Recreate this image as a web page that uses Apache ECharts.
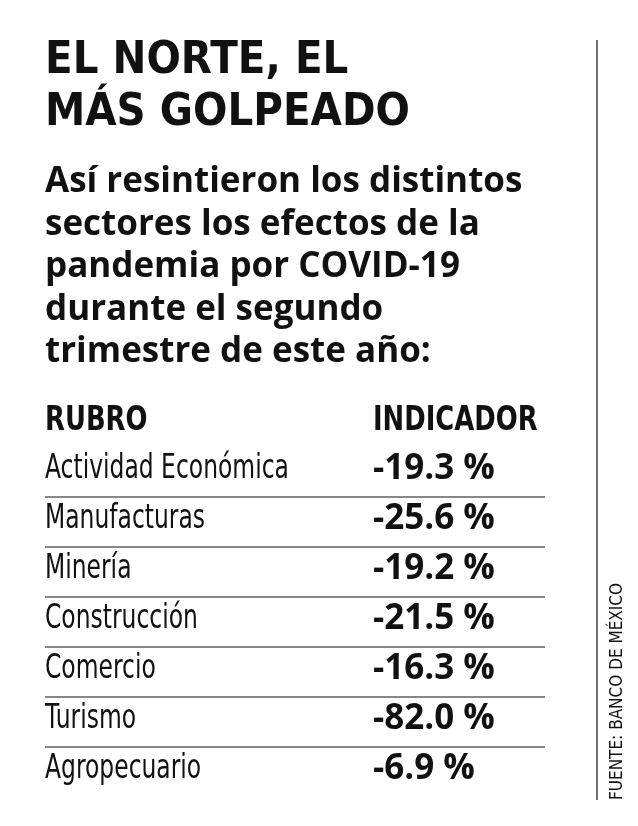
<!DOCTYPE html>
<html><head><meta charset="utf-8">
<script src="https://cdn.jsdelivr.net/npm/echarts@6/dist/echarts.min.js"></script>
<style>html,body{margin:0;background:#fff}#c{width:638px;height:826px}</style>
</head><body><div id="c"></div>
<script>
var titleLines = ['EL NORTE, EL', 'MÁS GOLPEADO'];
var subLines = ['Así resintieron los distintos', 'sectores los efectos de la', 'pandemia por COVID-19', 'durante el segundo', 'trimestre de este año:'];
var rubros = ['Actividad Económica', 'Manufacturas', 'Minería', 'Construcción', 'Comercio', 'Turismo', 'Agropecuario'];
var valores = [-19.3, -25.6, -19.2, -21.5, -16.3, -82.0, -6.9];
var fuente = 'FUENTE: BANCO DE MÉXICO';

var g = [];
titleLines.forEach(function (t, i) {
    g.push({ type: 'text', x: 45, y: 40 + i * 52, scaleX: 0.92, style: { text: t, font: 'bold 44px "DejaVu Sans",sans-serif', fill: '#111' } });
});
subLines.forEach(function (t, i) {
    g.push({ type: 'text', x: 45, y: 165 + i * 42.5, style: { text: t, font: 'bold 35px "Open Sans",sans-serif', fill: '#111' } });
});
g.push({ type: 'text', x: 45, y: 404, scaleX: 0.76, style: { text: 'RUBRO', font: 'bold 34px "DejaVu Sans",sans-serif', fill: '#111' } });
g.push({ type: 'text', x: 373, y: 404, scaleX: 0.76, style: { text: 'INDICADOR', font: 'bold 34px "DejaVu Sans",sans-serif', fill: '#111' } });
rubros.forEach(function (r, i) {
    var y = 453 + i * 50;
    g.push({ type: 'text', x: 45, y: y, scaleX: 0.71, style: { text: r, font: '33px "DejaVu Sans",sans-serif', fill: '#111' } });
    g.push({ type: 'text', x: 373, y: y - 1, style: { text: valores[i].toFixed(1) + ' %', font: 'bold 35px "Open Sans",sans-serif', fill: '#111' } });
    if (i < rubros.length - 1) {
        g.push({ type: 'line', shape: { x1: 45, y1: y + 44, x2: 545, y2: y + 44 }, style: { stroke: '#111', lineWidth: 1.2 } });
    }
});
g.push({ type: 'line', shape: { x1: 597, y1: 40, x2: 597, y2: 800 }, style: { stroke: '#111', lineWidth: 1.2 } });
g.push({ type: 'text', x: 618, y: 800, rotation: Math.PI / 2, scaleX: 0.9, style: { text: fuente, font: '17px "DejaVu Sans",sans-serif', fill: '#111', textVerticalAlign: 'middle' } });

var chart = echarts.init(document.getElementById('c'));
chart.setOption({ animation: false, graphic: g });
</script></body></html>
